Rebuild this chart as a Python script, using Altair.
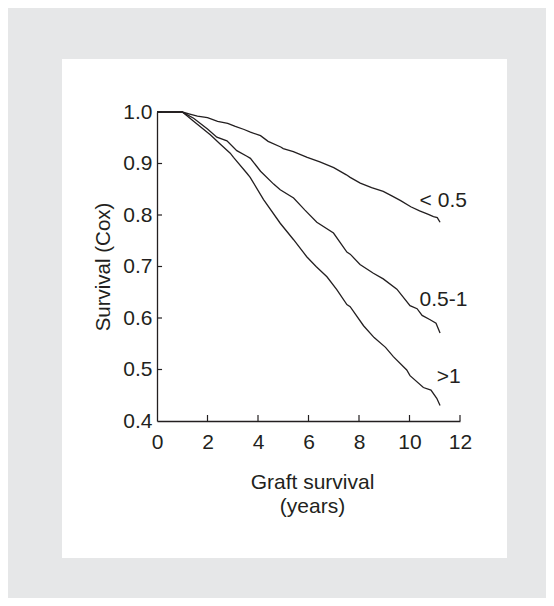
import altair as alt
import pandas as pd

# ---- data ----
years_low = [0, 1.0, 1.3, 1.6, 2.0, 2.4, 2.8, 3.1, 3.45, 3.7, 4.1, 4.4, 4.9, 5.0, 5.4, 5.95,
             6.45, 7.0, 7.5, 7.65, 8.05, 8.5, 8.96, 9.3, 9.65, 10.05, 10.4, 10.7, 10.95, 11.1, 11.21]
surv_low = [1.0, 1.0, 0.996, 0.992, 0.989, 0.982, 0.978, 0.972, 0.966, 0.961, 0.954, 0.943, 0.932,
            0.929, 0.923, 0.912, 0.903, 0.892, 0.878, 0.873, 0.862, 0.853, 0.846, 0.837, 0.828,
            0.816, 0.808, 0.802, 0.797, 0.795, 0.786]

years_mid = [0, 1.0, 1.15, 1.45, 2.0, 2.37, 2.77, 3.16, 3.56, 3.7, 4.1, 4.62, 4.88, 5.41, 5.85,
             6.33, 6.99, 7.52, 7.65, 8.04, 8.57, 8.96, 9.5, 10.02, 10.3, 10.5, 10.8, 11.05, 11.21]
surv_mid = [1.0, 1.0, 0.996, 0.988, 0.967, 0.951, 0.944, 0.925, 0.914, 0.910, 0.885, 0.860, 0.849,
            0.833, 0.810, 0.786, 0.765, 0.728, 0.724, 0.704, 0.687, 0.676, 0.656, 0.624, 0.618,
            0.605, 0.597, 0.590, 0.571]

years_high = [0, 1.0, 1.15, 1.45, 2.11, 2.5, 2.9, 3.03, 3.56, 3.69, 4.22, 4.88, 5.41, 5.93, 6.3,
              6.73, 7.12, 7.52, 7.65, 8.18, 8.6, 9.05, 9.36, 9.89, 10.02, 10.55, 10.85, 11.08, 11.21]
surv_high = [1.0, 1.0, 0.994, 0.982, 0.956, 0.938, 0.920, 0.912, 0.881, 0.873, 0.830, 0.784, 0.752,
             0.719, 0.700, 0.680, 0.655, 0.626, 0.622, 0.585, 0.562, 0.543, 0.525, 0.499, 0.488,
             0.465, 0.460, 0.444, 0.430]

group_names = ["< 0.5", "0.5-1", ">1"]
label_x = [10.4, 10.4, 11.08]
label_y = [0.828, 0.635, 0.486]

x_ticks = [0, 2, 4, 6, 8, 10, 12]
y_ticks = [0.4, 0.5, 0.6, 0.7, 0.8, 0.9, 1.0]
x_inner_ticks = [2, 4, 6, 8, 10, 12]
y_inner_ticks = [0.5, 0.6, 0.7, 0.8, 0.9, 1.0]

INK = "#231f20"
FONT = "Liberation Sans"
FS = 21

rows = []
for name, xs, ys in zip(group_names, [years_low, years_mid, years_high],
                        [surv_low, surv_mid, surv_high]):
    for i, (a, b) in enumerate(zip(xs, ys)):
        rows.append({"group": name, "t": a, "s": b, "o": i})
curves = pd.DataFrame(rows)
labels = pd.DataFrame({"group": group_names, "t": label_x, "s": label_y})

xscale = alt.Scale(domain=[0, 12], nice=False, zero=False)
yscale = alt.Scale(domain=[0.4, 1.0], nice=False, zero=False)

x_axis = alt.Axis(values=x_ticks, format="d", ticks=False, tickSize=0, grid=False, zindex=2,
                  domainColor=INK, domainWidth=1.3, labelPadding=10, labelFlush=False,
                  labelFont=FONT, labelFontSize=FS, labelColor=INK,
                  title=["Graft survival", "(years)"], titleFont=FONT,
                  titleFontSize=FS, titleFontWeight="normal", titleColor=INK,
                  titleLineHeight=24, titleBaseline="alphabetic",
                  titleY=67, titleX=155)
y_axis = alt.Axis(values=y_ticks, format=".1f", ticks=False, tickSize=0, grid=False, zindex=2,
                  domainColor=INK, domainWidth=1.3, labelPadding=5, labelFlush=False,
                  labelFont=FONT, labelFontSize=FS, labelColor=INK,
                  title="Survival (Cox)", titleFont=FONT, titleFontSize=20.5,
                  titleFontWeight="normal", titleColor=INK, titleAngle=270,
                  titleBaseline="alphabetic", titleX=-48)

panel = alt.Chart(pd.DataFrame({"a": [0]})).mark_rect(fill="white").encode(
    x=alt.value(-95), x2=alt.value(350), y=alt.value(-53), y2=alt.value(446)
)

lines = alt.Chart(curves).mark_line(color=INK, strokeWidth=1.3).encode(
    x=alt.X("t:Q", scale=xscale, axis=x_axis),
    y=alt.Y("s:Q", scale=yscale, axis=y_axis),
    detail="group:N",
    order="o:Q",
)

xt = alt.Chart(pd.DataFrame({"t": x_inner_ticks})).mark_rule(color=INK, strokeWidth=1.2).encode(
    x=alt.X("t:Q", scale=xscale, axis=x_axis), y=alt.datum(0.4), y2=alt.datum(0.4117)
)
yt = alt.Chart(pd.DataFrame({"s": y_inner_ticks})).mark_rule(color=INK, strokeWidth=1.2).encode(
    y=alt.Y("s:Q", scale=yscale, axis=y_axis), x=alt.datum(0), x2=alt.datum(0.2)
)

text = alt.Chart(labels).mark_text(align="left", baseline="middle", font=FONT,
                                   fontSize=FS, color=INK).encode(
    x=alt.X("t:Q", scale=xscale, axis=x_axis),
    y=alt.Y("s:Q", scale=yscale, axis=y_axis),
    text="group:N"
)

chart = alt.layer(panel, lines, xt, yt, text).properties(
    width=303, height=309,
    padding={"left": 149, "top": 104, "right": 86, "bottom": 177},
    autosize=alt.AutoSizeParams(type="none"),
    background="#e6e7e8",
).configure_view(stroke=None)

chart.save("out.html", embed_options={"renderer": "svg", "actions": False})
